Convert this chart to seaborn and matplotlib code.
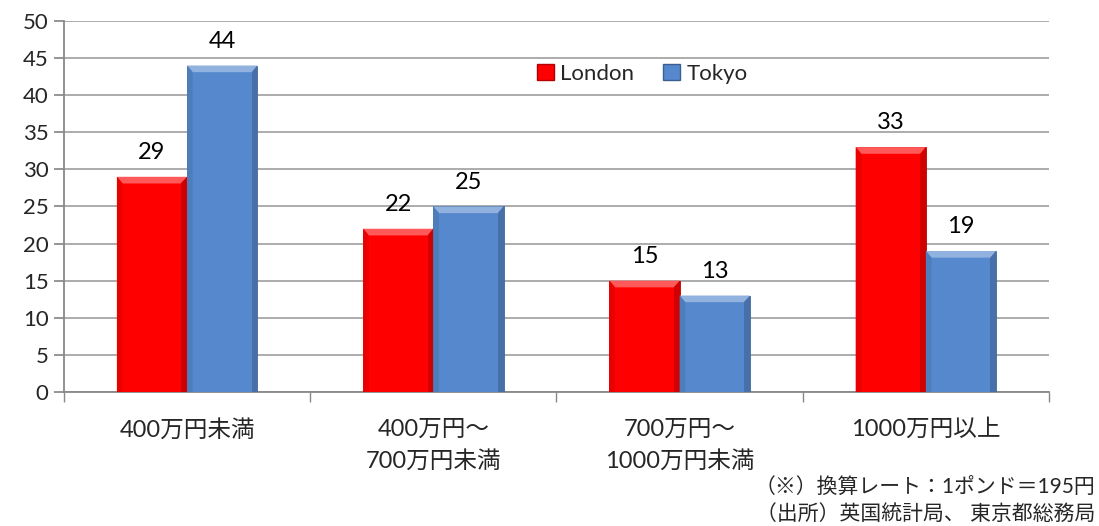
import numpy as np
import pandas as pd
import matplotlib
matplotlib.use('Agg')
import matplotlib.pyplot as plt
from matplotlib.patches import Polygon
import seaborn as sns

categories = ['400万円未満', '400万円～\n700万円未満', '700万円～\n1000万円未満', '1000万円以上']
london = [29, 22, 15, 33]
tokyo = [44, 25, 13, 19]
series = ['London', 'Tokyo']
colors = {'London': '#FF0000', 'Tokyo': '#5588CC'}
y_ticks = list(range(0, 55, 5))
notes = ['（※）換算レート：1ポンド＝195円', '（出所）英国統計局、 東京都総務局']

df = pd.DataFrame({
    'cat': categories * 2,
    'city': ['London'] * len(categories) + ['Tokyo'] * len(categories),
    'value': london + tokyo,
})

sns.set_theme(style='white')
plt.rcParams['font.family'] = ['Lato', 'Noto Sans CJK JP', 'DejaVu Sans']

fig = plt.figure(figsize=(10.99, 5.26), dpi=100)
ax = fig.add_axes([0.0582, 0.2548, 0.8963, 0.7053])

sns.barplot(data=df, x='cat', y='value', hue='city', palette=colors,
            width=0.57, gap=0, saturation=1, ax=ax, legend=False, zorder=3)

# fake bevel on each bar
def shade(c, f):
    r, g, b = matplotlib.colors.to_rgb(c)
    if f > 1:
        return (r + (1 - r) * (f - 1), g + (1 - g) * (f - 1), b + (1 - b) * (f - 1))
    return (r * f, g * f, b * f)

for cont, name in zip(ax.containers, series):
    for p in cont.patches:
        p.set_edgecolor(shade(colors[name], 0.75))
        p.set_linewidth(0.6)
        x0, y0 = p.get_x(), p.get_y()
        w, h = p.get_width(), p.get_height()
        dx = w * 0.08
        dy = 0.9
        top = Polygon([(x0, y0 + h), (x0 + w, y0 + h), (x0 + w - dx, y0 + h - dy), (x0 + dx, y0 + h - dy)],
                      closed=True, facecolor=shade(colors[name], 1.35), edgecolor='none', zorder=4)
        right = Polygon([(x0 + w, y0 + h), (x0 + w, y0), (x0 + w - dx, y0), (x0 + w - dx, y0 + h - dy)],
                        closed=True, facecolor=shade(colors[name], 0.82), edgecolor='none', zorder=4)
        left = Polygon([(x0, y0 + h), (x0 + dx, y0 + h - dy), (x0 + dx, y0), (x0, y0)],
                       closed=True, facecolor=shade(colors[name], 0.92), edgecolor='none', zorder=4)
        for poly in (top, right, left):
            ax.add_patch(poly)
    ax.bar_label(cont, fmt='%d', padding=10, fontsize=17, color='black')

ax.set_ylim(0, 50)
ax.set_xlim(-0.5, len(categories) - 0.5)
ax.set_yticks(y_ticks)
ax.tick_params(axis='y', labelsize=16, length=7, color='#888888', direction='out', left=True, pad=4)
ax.set_xticks(range(len(categories)))
ax.set_xticklabels(categories, fontsize=17, linespacing=1.6, va='top')
ax.tick_params(axis='x', length=0, pad=19)
ax.set_xticks(np.arange(-0.5, len(categories), 1), minor=True)
ax.tick_params(axis='x', which='minor', length=7, color='#888888', bottom=True, direction='out')
ax.set_xlabel('')
ax.set_ylabel('')
ax.yaxis.grid(True, color='#A6A6A6', linewidth=1.3, zorder=0)
ax.set_axisbelow(True)
for s in ['top', 'right']:
    ax.spines[s].set_visible(False)
for s in ['left', 'bottom']:
    ax.spines[s].set_color('#888888')
    ax.spines[s].set_linewidth(1.3)

handles = [plt.Rectangle((0, 0), 1, 1, facecolor=colors[n], edgecolor=shade(colors[n], 0.7)) for n in series]
ax.legend(handles, series, loc='center', bbox_to_anchor=(0.587, 0.857), ncol=2, frameon=False,
          fontsize=16, handlelength=0.75, handleheight=0.75, handletextpad=0.3, columnspacing=1.3)

fig.text(0.997, 0.073, notes[0], ha='right', va='center', fontsize=15)
fig.text(0.997, 0.023, notes[1], ha='right', va='center', fontsize=15)

fig.savefig('out.png', dpi=100)
